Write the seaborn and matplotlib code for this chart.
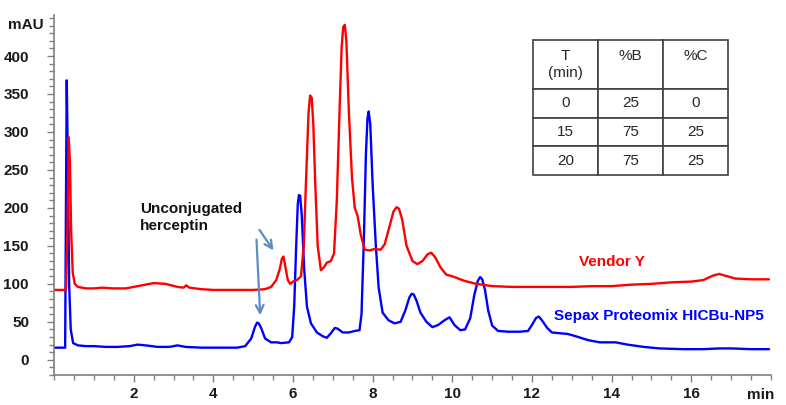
#HIC chromatogram overlay: Vendor Y vs Sepax Proteomix HICBu-NP5

import pandas as pd
import matplotlib
matplotlib.use('Agg')
import matplotlib.pyplot as plt
from matplotlib.ticker import MultipleLocator
import seaborn as sns

# Sepax Proteomix HICBu-NP5 trace (time in min, absorbance in mAU)
sepax_time = [0.0, 0.28, 0.30, 0.32, 0.35, 0.38, 0.42, 0.48, 0.6, 0.8, 1.0, 1.3, 1.6, 1.9, 2.1,
              2.3, 2.6, 2.9, 3.1, 3.3, 3.7, 4.2, 4.6, 4.8, 4.95, 5.05, 5.1, 5.14, 5.2, 5.3, 5.45,
              5.6, 5.7, 5.9, 5.98, 6.03, 6.08, 6.12, 6.15, 6.18, 6.22, 6.28, 6.35, 6.45, 6.6, 6.75,
              6.85, 6.95, 7.05, 7.12, 7.25, 7.4, 7.55, 7.67, 7.72, 7.78, 7.83, 7.87, 7.9, 7.94,
              8.0, 8.08, 8.15, 8.25, 8.4, 8.55, 8.7, 8.82, 8.92, 8.98, 9.03, 9.1, 9.2, 9.35, 9.5,
              9.65, 9.8, 9.93, 10.05, 10.2, 10.32, 10.45, 10.55, 10.64, 10.7, 10.75, 10.82, 10.9,
              11.0, 11.15, 11.4, 11.7, 11.9, 12.0, 12.1, 12.17, 12.25, 12.38, 12.5, 12.7, 12.9,
              13.1, 13.4, 13.7, 14.1, 14.4, 14.8, 15.2, 15.8, 16.3, 16.7, 17.0, 17.5, 17.95]
sepax_mau = [16, 16, 200, 368, 250, 100, 40, 22, 19, 18, 18, 17, 17, 18, 20,
             19, 17, 17, 19, 17, 16, 16, 16, 18, 28, 44, 49, 48, 42, 28, 23,
             23, 22, 23, 30, 70, 150, 205, 217, 216, 190, 120, 70, 48, 36, 31,
             29, 35, 42, 41, 36, 36, 38, 39, 60, 160, 270, 318, 327, 310,
             230, 150, 95, 62, 52, 48, 50, 65, 82, 87, 86, 78, 62, 50, 43,
             46, 52, 56, 46, 39, 40, 55, 85, 104, 109, 106, 92, 65,
             45, 38, 37, 37, 38, 46, 55, 57, 52, 42, 36, 35, 34,
             31, 26, 23, 23, 20, 17, 15, 14, 14, 15, 15, 14, 14]

# Vendor Y trace
vendor_time = [0.0, 0.3, 0.33, 0.37, 0.40, 0.43, 0.47, 0.52, 0.6, 0.8, 1.0, 1.2, 1.5, 1.8, 2.1,
               2.5, 2.8, 3.1, 3.25, 3.32, 3.4, 3.7, 4.0, 4.5, 5.0, 5.3, 5.45, 5.58, 5.67, 5.72,
               5.76, 5.8, 5.87, 5.93, 6.0, 6.1, 6.2, 6.27, 6.33, 6.39, 6.43, 6.47, 6.51, 6.56,
               6.62, 6.7, 6.78, 6.85, 6.95, 7.03, 7.1, 7.17, 7.22, 7.26, 7.3, 7.34, 7.4, 7.48,
               7.55, 7.62, 7.7, 7.8, 7.92, 8.05, 8.2, 8.3, 8.42, 8.52, 8.6, 8.66, 8.74, 8.85,
               9.0, 9.12, 9.25, 9.38, 9.47, 9.57, 9.7, 9.85, 10.0, 10.3, 10.6, 11.0, 11.5, 12.0,
               12.5, 13.0, 13.5, 14.0, 14.5, 15.0, 15.5, 16.0, 16.3, 16.55, 16.7, 16.9, 17.1,
               17.5, 17.95]
vendor_mau = [92, 92, 150, 293, 260, 170, 115, 100, 96, 94, 94, 95, 94, 94, 97,
              101, 100, 96, 95, 98, 95, 93, 92, 92, 92, 93, 96, 105, 120, 133,
              136, 125, 105, 100, 103, 105, 110, 150, 240, 325, 348, 345, 310, 230,
              150, 118, 122, 128, 130, 140, 210, 330, 410, 438, 441, 420, 330, 240,
              200, 190, 165, 145, 144, 146, 145, 152, 175, 195, 201, 199, 185, 150,
              130, 126, 130, 139, 141, 135, 122, 112, 110, 104, 100, 97, 96, 96,
              96, 96, 97, 97, 99, 100, 102, 103, 105, 111, 113, 110, 107,
              106, 106]

# gradient table
table_header = ['T\n(min)', '%B\n ', '%C\n ']
table_rows = [['0', '25', '0'], ['15', '75', '25'], ['20', '75', '25']]

x_ticks = [2, 4, 6, 8, 10, 12, 14, 16]
y_ticks = [0, 50, 100, 150, 200, 250, 300, 350, 400]


def main():
    sns.set_style('ticks')
    plt.rcParams['font.family'] = ['Liberation Sans', 'DejaVu Sans']

    fig = plt.figure(figsize=(7.86, 4.05), dpi=100)
    ax = fig.add_axes([54 / 786, 30 / 405, 717 / 786, 360 / 405])

    sepax = pd.DataFrame({'time': sepax_time, 'mau': sepax_mau})
    vendor = pd.DataFrame({'time': vendor_time, 'mau': vendor_mau})
    sns.lineplot(data=sepax, x='time', y='mau', ax=ax, color='#0000ff', lw=1.7, sort=False)
    sns.lineplot(data=vendor, x='time', y='mau', ax=ax, color='#ff0000', lw=1.7, sort=False)

    ax.set_xlim(0, 18)
    ax.set_ylim(-20, 454)
    ax.set_xlabel('')
    ax.set_ylabel('')
    sns.despine(ax=ax)
    for side in ['left', 'bottom']:
        ax.spines[side].set_color('#808080')
        ax.spines[side].set_linewidth(1.2)

    ax.set_xticks(x_ticks)
    ax.set_yticks(y_ticks)
    ax.xaxis.set_minor_locator(MultipleLocator(0.5))
    ax.yaxis.set_minor_locator(MultipleLocator(10))
    ax.tick_params(which='both', color='#808080', width=1, direction='out')
    ax.tick_params(which='major', length=5, labelsize=11, labelcolor='#1a1a1a', pad=13)
    ax.tick_params(which='minor', length=3.5)
    ax.tick_params(axis='x', which='major', pad=4)
    for lab in ax.get_xticklabels() + ax.get_yticklabels():
        lab.set_fontweight('bold')

    ax.text(-0.25, 441, 'mAU', ha='right', va='center', fontsize=11,
            fontweight='bold', color='#1a1a1a')
    ax.text(17.75, -37, 'min', ha='center', va='top', fontsize=11,
            fontweight='bold', color='#1a1a1a', clip_on=False)

    ax.text(2.15, 208, 'Unconjugated\nherceptin', ha='left', va='top', fontsize=11,
            fontweight='bold', color='#111111', linespacing=1.3)
    ax.text(14.0, 129, 'Vendor Y', ha='center', va='center', fontsize=11,
            fontweight='bold', color='#ff0000')
    ax.text(12.55, 58, 'Sepax Proteomix HICBu-NP5', ha='left', va='center', fontsize=11,
            fontweight='bold', color='#0000ff', clip_on=False)

    arrow = dict(arrowstyle='->', color='#5b8cc4', lw=1.6, mutation_scale=14)
    ax.annotate('', xy=(5.55, 141), xytext=(5.12, 174), arrowprops=arrow)
    ax.annotate('', xy=(5.18, 55), xytext=(5.08, 162), arrowprops=arrow)

    tab = ax.table(cellText=table_rows, colLabels=table_header, cellLoc='center',
                   bbox=[479 / 717, 200 / 360, 195 / 717, 135 / 360])
    tab.auto_set_font_size(False)
    for (r, c), cell in tab.get_celld().items():
        cell.set_edgecolor('#404040')
        cell.set_linewidth(1.2)
        cell.set_facecolor('white')
        cell.get_text().set_fontsize(11)
        cell.set_height(49 if r == 0 else 28.7)

    fig.savefig('out.png', dpi=100)


if __name__ == '__main__':
    main()
